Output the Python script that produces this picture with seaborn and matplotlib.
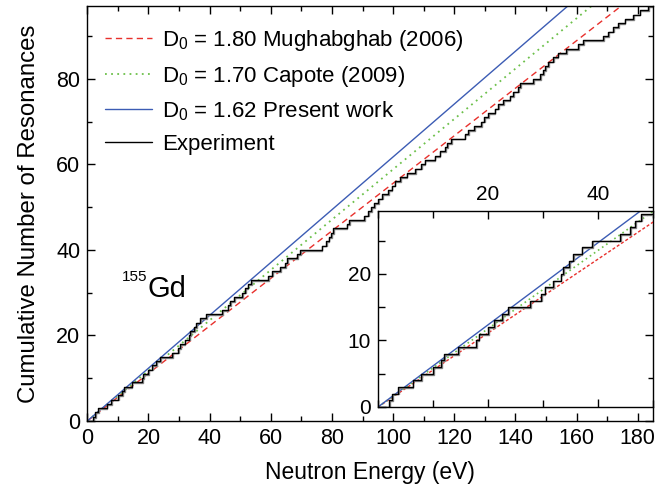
import numpy as np
import pandas as pd
import matplotlib
matplotlib.use("Agg")
import matplotlib.pyplot as plt
import matplotlib.transforms as mtransforms
from matplotlib.ticker import MultipleLocator
import seaborn as sns

# ---------------- data ----------------
d0_values = [1.80, 1.70, 1.62]
d0_labels = [r"D$_\mathregular{0}$ = 1.80 Mughabghab (2006)",
             r"D$_\mathregular{0}$ = 1.70 Capote (2009)",
             r"D$_\mathregular{0}$ = 1.62 Present work"]
d0_colors = ["#e8302c", "#6cc04a", "#3c5cb4"]
line_energy = [0.0, 185.0]

resonance_energies = [
    2.0, 2.6, 3.6, 6.3, 7.8, 10.0, 11.5, 12.0, 14.5, 17.8, 18.3, 20.0, 21.1,
    22.6, 23.7, 27.6, 29.7, 30.3, 31.8, 33.2, 33.6, 34.8, 35.5, 37.0, 38.9,
    44.0, 45.9, 46.8, 47.9,
    50.5, 51.5, 52.4, 53.5, 59.2, 60.5, 63.0, 64.6, 65.3, 68.5, 69.5, 76.6,
    78.0, 78.9, 79.8, 80.5, 84.8, 85.6, 90.5, 91.8, 92.9, 93.8, 95.0, 96.5,
    98.4, 99.5, 100.5, 102.2, 104.4, 107.1, 109.1, 110.3, 113.6, 115.2, 116.9,
    117.6, 119.1, 123.4, 124.5, 126.5, 128.9, 129.7, 131.1, 133.2, 134.3,
    135.9, 138.1, 139.2, 140.9, 141.6, 145.8, 148.0, 149.0, 149.6, 150.6,
    152.3, 153.8, 156.7, 160.5, 162.1, 168.6, 170.2, 171.9, 173.5, 175.7,
    178.4, 180.6, 183.4,
]

main_xticks = [0, 20, 40, 60, 80, 100, 120, 140, 160, 180]
main_yticks = [0, 20, 40, 60, 80]
inset_xticks = [20, 40]
inset_yticks = [0, 10, 20]

# ---------------- style ----------------
sns.set_theme(style="ticks")
plt.rcParams["font.family"] = ["Liberation Sans", "DejaVu Sans"]
plt.rcParams["mathtext.fontset"] = "custom"
plt.rcParams["mathtext.rm"] = "Liberation Sans"
plt.rcParams["mathtext.it"] = "Liberation Sans:italic"
plt.rcParams["axes.linewidth"] = 1.0
for k in ["text.color", "axes.labelcolor", "xtick.color", "ytick.color", "axes.edgecolor"]:
    plt.rcParams[k] = "black"

fig = plt.figure(figsize=(6.58, 4.91), dpi=100)
ax = fig.add_axes([0.1327, 0.1426, 0.9924 - 0.1327, 0.9878 - 0.1426])

stair_x = [0.0] + resonance_energies + [185.0]
stair_y = list(range(len(resonance_energies) + 1)) + [len(resonance_energies)]
stair_df = pd.DataFrame({"E": stair_x, "N": stair_y})


def draw(a, dashes_list, lws):
    for d0, lab, col, ds, lw in zip(d0_values, d0_labels, d0_colors, dashes_list, lws):
        df = pd.DataFrame({"E": line_energy, "N": [e / d0 for e in line_energy]})
        sns.lineplot(data=df, x="E", y="N", ax=a, color=col, lw=lw, label=lab)
        line = a.get_lines()[-1]
        if ds:
            line.set_dashes(ds)
    # grey shadow of the staircase
    sns.lineplot(data=stair_df, x="E", y="N", ax=a, color="#8a8a8a", lw=1.0,
                 drawstyle="steps-post", estimator=None)
    shadow = a.get_lines()[-1]
    shadow.set_transform(mtransforms.offset_copy(a.transData, fig=fig, x=0.8, y=-0.8,
                                                 units="dots"))
    sns.lineplot(data=stair_df, x="E", y="N", ax=a, color="black", lw=1.0,
                 drawstyle="steps-post", label="Experiment", estimator=None)


draw(ax, [(4.5, 3.0), (1.0, 2.4), None], [1.0, 1.3, 1.0])

ax.set_xlim(0, 185)
ax.set_ylim(0, 97)
ax.set_xticks(main_xticks)
ax.set_yticks(main_yticks)
ax.xaxis.set_minor_locator(MultipleLocator(10))
ax.yaxis.set_minor_locator(MultipleLocator(10))
ax.tick_params(which="both", direction="in", top=True, right=True,
               labelsize=15.5, colors="black", width=1.0)
ax.tick_params(which="major", length=6, pad=5)
ax.tick_params(which="minor", length=3.5)
ax.set_xlabel("Neutron Energy (eV)", fontsize=16.5, labelpad=9)
ax.set_ylabel("Cumulative Number of Resonances", fontsize=17.3, labelpad=12)

handles, labels = ax.get_legend_handles_labels()
keep = [i for i, l in enumerate(labels) if not l.startswith("_")]
leg = ax.legend([handles[i] for i in keep], [labels[i] for i in keep],
                loc="upper left", bbox_to_anchor=(0.0, 0.99), frameon=False,
                fontsize=16, handlelength=2.1, handletextpad=0.45,
                labelspacing=0.48, borderaxespad=0.4)

ax.text(11.4, 35.3, "155", fontsize=11, va="top", ha="left")
ax.text(19.8, 29.0, "Gd", fontsize=21, va="baseline", ha="left")

# ---------------- inset ----------------
ins = fig.add_axes([378 / 658, (491 - 407) / 491, (653 - 378) / 658, (407 - 210.7) / 491])
ins.set_facecolor("none")
draw(ins, [(2.2, 1.5), (1.0, 2.0), None], [1.0, 1.2, 1.0])
if ins.get_legend():
    ins.get_legend().remove()
ins.set_xlim(0, 50)
ins.set_ylim(0, 29.5)
ins.set_xticks(inset_xticks)
ins.set_yticks(inset_yticks)
ins.xaxis.set_minor_locator(MultipleLocator(10))
ins.yaxis.set_minor_locator(MultipleLocator(5))
ins.xaxis.tick_top()
ins.tick_params(which="both", direction="in", top=True, bottom=True, left=True,
                right=False, labeltop=True, labelbottom=False, labelsize=15,
                colors="black", width=1.0)
ins.tick_params(which="major", length=6, pad=5)
ins.tick_params(which="minor", length=5)
ins.spines["right"].set_visible(False)
ins.set_xlabel("")
ins.set_ylabel("")

fig.savefig("out.png", dpi=100)
